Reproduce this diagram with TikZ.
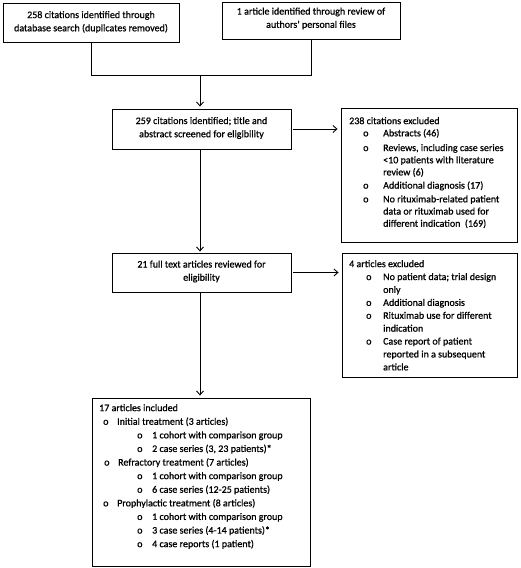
\documentclass[tikz,border=0pt]{standalone}
\usepackage{fontspec}
\setmainfont{Carlito}[FakeBold=0.8]
\usetikzlibrary{arrows.meta}
\newcommand{\bt}[2]{\hspace*{#1pt}\makebox[#2pt][l]{o}}
\begin{document}
\begin{tikzpicture}[x=1pt,y=-1pt,
  box/.style={draw=black,line width=0.9pt,inner sep=0pt},
  txt/.style={inner sep=0pt,align=center,font=\fontsize{10}{13.2}\selectfont},
  ltxt/.style={inner sep=0pt,align=left,anchor=north west},
  conn/.style={draw=black,line width=0.9pt},
  arr/.style={conn,-{Straight Barb[length=4pt,width=7pt,line width=0.9pt]}}]
\useasboundingbox (0,0) rectangle (520,568);
\fill[white] (0,0) rectangle (520,568);
% boxes
\node[box,minimum width=176pt,minimum height=39pt] (a) at (91,22.5) {};
\node[box,minimum width=178pt,minimum height=37pt] (b) at (311,20.5) {};
\node[box,minimum width=179pt,minimum height=40pt] (c) at (201.5,129) {};
\node[box,minimum width=176pt,minimum height=134pt] (d) at (429,175) {};
\node[box,minimum width=179pt,minimum height=39pt] (e) at (201.5,272.5) {};
\node[box,minimum width=175pt,minimum height=124pt] (f) at (429.5,315) {};
\node[box,minimum width=218pt,minimum height=168pt] (g) at (201,482) {};
% texts
\node[txt] (ta) at (91,22) {258 citations identified through\\database search (duplicates removed)};
\node[txt] (tb) at (311,18.5) {1 article identified through review of\\authors’ personal files};
\node[txt] (tc) at (201.5,128) {259 citations identified; title and\\abstract screened for eligibility};
\node[txt] (te) at (201.5,271.5) {21 full text articles reviewed for\\eligibility};
\node[ltxt,font=\fontsize{10}{12.2}\selectfont] (td) at (349,117) {238 citations excluded\\
\bt{14}{20}Abstracts (46)\\[2.5pt]
\bt{14}{20}Reviews, including case series\\
\hspace*{34pt}<10 patients with literature\\
\hspace*{34pt}review (6)\\[1pt]
\bt{14}{20}Additional diagnosis (17)\\[1.5pt]
\bt{14}{20}No rituximab-related patient\\
\hspace*{34pt}data or rituximab used for\\
\hspace*{34pt}different indication\ \ (169)};
\node[ltxt,font=\fontsize{10}{12.9}\selectfont] (tf) at (349,260) {4 articles excluded\\
\bt{17}{17}No patient data; trial design\\
\hspace*{34pt}only\\
\bt{17}{17}Additional diagnosis\\
\bt{17}{17}Rituximab use for different\\
\hspace*{34pt}indication\\
\bt{17}{17}Case report of patient\\
\hspace*{34pt}reported in a subsequent\\
\hspace*{34pt}article};
\node[ltxt,font=\fontsize{10}{13.6}\selectfont] (tg) at (99,404) {17 articles included\\
\bt{4}{14}Initial treatment (3 articles)\\
\bt{38}{15}1 cohort with comparison group\\
\bt{38}{15}2 case series (3, 23 patients)*\\
\bt{5}{14}Refractory treatment (7 articles)\\
\bt{38}{15}1 cohort with comparison group\\
\bt{38}{15}6 case series (12-25 patients)\\
\bt{4}{14}Prophylactic treatment (8 articles)\\
\bt{38}{15}1 cohort with comparison group\\
\bt{38}{15}3 case series (4-14 patients)*\\
\bt{38}{15}4 case reports (1 patient)};
% connectors
\coordinate (ja) at (91,75);
\coordinate (jb) at (311,75);
\coordinate (jm) at (200,75);
\draw[conn] (a.south -| ja) -- (ja) -- (jb) -- (b.south -| jb);
\draw[arr,shorten >=2pt] (jm) -- (jm |- c.north);
\draw[arr,shorten <=2pt,shorten >=3pt] (c.east) -- (c.east -| d.west);
\draw[arr,shorten >=1pt] (jm |- c.south) -- (jm |- e.north);
\draw[arr,shorten <=2pt,shorten >=3pt] (e.east) -- (e.east -| f.west);
\draw[arr,shorten >=2pt] (jm |- e.south) -- (jm |- g.north);
\end{tikzpicture}
\end{document}
